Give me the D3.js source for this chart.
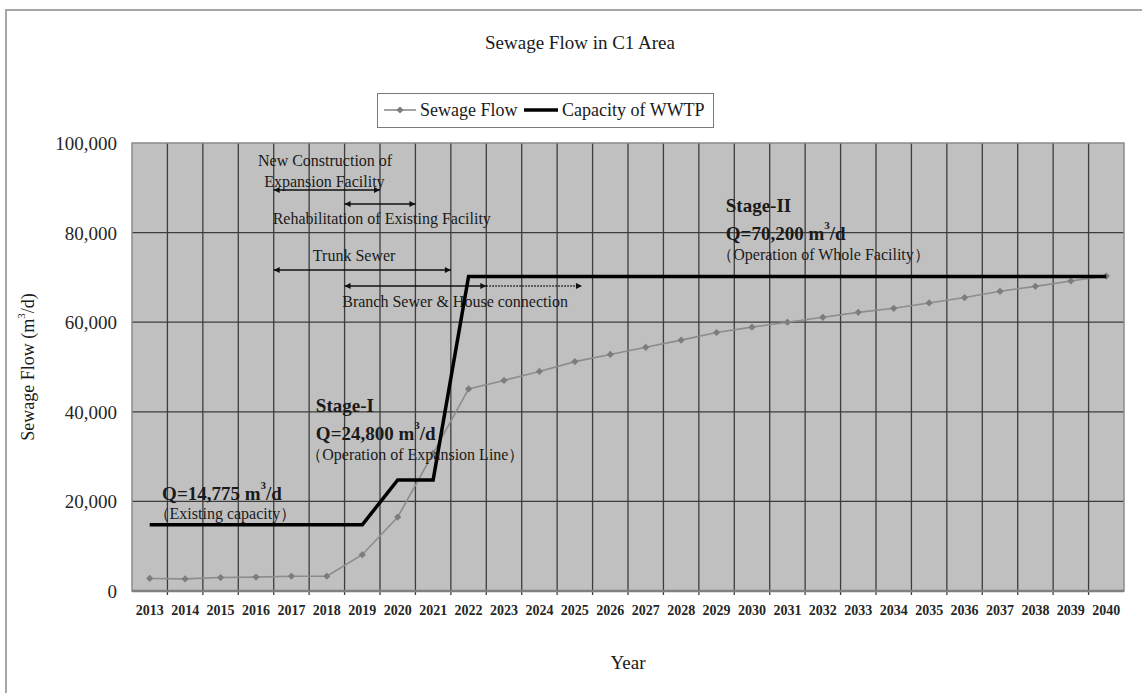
<!DOCTYPE html>
<html>
<head>
<meta charset="utf-8">
<script src="https://cdn.jsdelivr.net/npm/d3@7"></script>
<style>
  html, body { margin: 0; padding: 0; background: #ffffff; }
  svg { display: block; font-family: "Liberation Serif", "Times New Roman", serif; }
</style>
</head>
<body>
<svg id="chart" width="1142" height="693"></svg>
<script>
// ---- data ----
const years = ["2013","2014","2015","2016","2017","2018","2019","2020","2021","2022",
               "2023","2024","2025","2026","2027","2028","2029","2030","2031","2032",
               "2033","2034","2035","2036","2037","2038","2039","2040"];

// projected sewage flow (m3/d)
const sewageFlow = [2800, 2700, 3000, 3100, 3300, 3300, 8100, 16500, 30700, 45100,
                    47000, 49000, 51200, 52800, 54400, 56000, 57700, 58900, 60000, 61100,
                    62200, 63100, 64300, 65500, 66900, 68000, 69200, 70300];

// treatment plant capacity (m3/d)
const capacity = [14775, 14775, 14775, 14775, 14775, 14775, 14775, 24800, 24800, 70200,
                  70200, 70200, 70200, 70200, 70200, 70200, 70200, 70200, 70200, 70200,
                  70200, 70200, 70200, 70200, 70200, 70200, 70200, 70200];

const yTicks = [0, 20000, 40000, 60000, 80000, 100000];

// construction periods: year boundaries and the flow level they are drawn at
const periods = [
  { from: 2017, to: 2020,   level: 89500, dotted: false, start: true  },
  { from: 2019, to: 2021,   level: 86400, dotted: false, start: true  },
  { from: 2017, to: 2022,   level: 71650, dotted: false, start: true  },
  { from: 2019, to: 2023,   level: 68100, dotted: false, start: true  },
  { from: 2023, to: 2025.7, level: 68100, dotted: true,  start: false }
];

const periodLabels = [
  { text: "New Construction of",                 year: 2018.45, level: 96050 },
  { text: "Expansion Facility",                  year: 2018.43, level: 91300 },
  { text: "Rehabilitation of Existing Facility", year: 2020.05, level: 83040 },
  { text: "Trunk Sewer",                         year: 2019.27, level: 74780 },
  { text: "Branch Sewer & House connection",     year: 2022.12, level: 64510 }
];

// stage notes: bold capacity lines and plain description lines
const stageNotes = [
  { parts: ["Stage-I"],                     year: 2018.19, level: 41300, kind: "bold" },
  { parts: ["Q=24,800 m", "3", "/d"],       year: 2018.19, level: 35270, kind: "bold" },
  { parts: ["（Operation of Expansion Line）"], year: 2018.19, level: 30580, kind: "note" },
  { parts: ["Q=14,775 m", "3", "/d"],       year: 2013.85, level: 21880, kind: "bold" },
  { parts: ["（Existing capacity）"],          year: 2013.88, level: 17190, kind: "note" },
  { parts: ["Stage-II"],                    year: 2029.76, level: 86160, kind: "bold" },
  { parts: ["Q=70,200 m", "3", "/d"],       year: 2029.76, level: 79820, kind: "bold" },
  { parts: ["（Operation of Whole Facility）"], year: 2029.79, level: 75160, kind: "note" }
];

// ---- layout ----
const plot = { left: 132, right: 1124, top: 143, bottom: 591 };
const svg = d3.select("#chart");

const x = d3.scaleBand().domain(years).range([plot.left, plot.right]).padding(0);
const xc = d => x(d) + x.bandwidth() / 2;
// continuous year scale (band edges) for the schedule annotations
const xYear = d3.scaleLinear().domain([2013, 2041]).range([plot.left, plot.right]);
const y = d3.scaleLinear().domain([0, 100000]).range([plot.bottom, plot.top]);

// outer chart frame
svg.append("path")
  .attr("d", "M6,693 V10 H1142")
  .attr("fill", "none")
  .attr("stroke", "#a6a6a6")
  .attr("stroke-width", 2);

// title
svg.append("text")
  .attr("x", 580).attr("y", 42)
  .attr("text-anchor", "middle").attr("dominant-baseline", "central")
  .attr("font-size", 19).attr("fill", "#1a1a1a")
  .text("Sewage Flow in C1 Area");

// plot background
svg.append("rect")
  .attr("x", plot.left).attr("y", plot.top)
  .attr("width", plot.right - plot.left).attr("height", plot.bottom - plot.top)
  .attr("fill", "#c0c0c0");

// vertical grid at category boundaries (with small ticks below the axis)
svg.append("g").selectAll("line")
  .data(years.slice(1))
  .join("line")
  .attr("x1", d => x(d)).attr("x2", d => x(d))
  .attr("y1", plot.top).attr("y2", plot.bottom + 4)
  .attr("stroke", "#3c3c3c").attr("stroke-width", 1.3);

// horizontal grid
svg.append("g").selectAll("line")
  .data(yTicks.filter(v => v > 0 && v < 100000))
  .join("line")
  .attr("x1", plot.left).attr("x2", plot.right)
  .attr("y1", d => y(d)).attr("y2", d => y(d))
  .attr("stroke", "#3c3c3c").attr("stroke-width", 1.3);

// plot border
svg.append("rect")
  .attr("x", plot.left).attr("y", plot.top)
  .attr("width", plot.right - plot.left).attr("height", plot.bottom - plot.top)
  .attr("fill", "none").attr("stroke", "#8a8a8a").attr("stroke-width", 1.5);
svg.append("line")
  .attr("x1", plot.left).attr("x2", plot.right)
  .attr("y1", plot.bottom).attr("y2", plot.bottom)
  .attr("stroke", "#808080").attr("stroke-width", 2.5);

// y axis
const yAxis = svg.append("g")
  .attr("transform", `translate(${plot.left},0)`)
  .call(d3.axisLeft(y).tickValues(yTicks).tickFormat(d3.format(",")).tickSize(0).tickPadding(15));
yAxis.select(".domain").remove();
yAxis.selectAll("text")
  .attr("font-family", "Liberation Serif, serif")
  .attr("font-size", 19).attr("fill", "#262626")
  .attr("dy", null).attr("dominant-baseline", "central");

// x axis
const xAxis = svg.append("g")
  .attr("transform", `translate(0,${plot.bottom})`)
  .call(d3.axisBottom(x).tickSize(0).tickPadding(0));
xAxis.select(".domain").remove();
xAxis.selectAll("text")
  .attr("font-family", "Liberation Serif, serif")
  .attr("font-size", 14).attr("font-weight", "bold").attr("fill", "#262626")
  .attr("y", 19).attr("dy", null).attr("dominant-baseline", "central");

// axis titles
const yTitle = svg.append("text")
  .attr("transform", `translate(28,${(plot.top + plot.bottom) / 2}) rotate(-90)`)
  .attr("text-anchor", "middle").attr("dominant-baseline", "central")
  .attr("font-size", 18).attr("fill", "#1a1a1a");
yTitle.append("tspan").text("Sewage Flow (m");
yTitle.append("tspan").attr("font-size", 11).attr("dy", -7).text("3");
yTitle.append("tspan").attr("dy", 7).text("/d)");

svg.append("text")
  .attr("x", (plot.left + plot.right) / 2).attr("y", 662)
  .attr("text-anchor", "middle").attr("dominant-baseline", "central")
  .attr("font-size", 19).attr("fill", "#1a1a1a")
  .text("Year");

// arrowhead markers
const defs = svg.append("defs");
defs.append("marker")
  .attr("id", "headEnd").attr("viewBox", "0 0 10 10")
  .attr("refX", 10).attr("refY", 5)
  .attr("markerWidth", 8).attr("markerHeight", 6)
  .attr("markerUnits", "userSpaceOnUse").attr("orient", "auto")
  .append("path").attr("d", "M0,0 L10,5 L0,10 Z").attr("fill", "#111");
defs.append("marker")
  .attr("id", "headStart").attr("viewBox", "0 0 10 10")
  .attr("refX", 0).attr("refY", 5)
  .attr("markerWidth", 8).attr("markerHeight", 6)
  .attr("markerUnits", "userSpaceOnUse").attr("orient", "auto")
  .append("path").attr("d", "M10,0 L0,5 L10,10 Z").attr("fill", "#111");

// construction period arrows
svg.append("g").selectAll("line")
  .data(periods)
  .join("line")
  .attr("x1", d => xYear(d.from)).attr("x2", d => xYear(d.to))
  .attr("y1", d => y(d.level)).attr("y2", d => y(d.level))
  .attr("stroke", "#111").attr("stroke-width", 1.5)
  .attr("stroke-dasharray", d => d.dotted ? "1.5,1.5" : null)
  .attr("marker-end", "url(#headEnd)")
  .attr("marker-start", d => d.start ? "url(#headStart)" : null);

svg.append("g").selectAll("text")
  .data(periodLabels)
  .join("text")
  .attr("x", d => xYear(d.year)).attr("y", d => y(d.level))
  .attr("text-anchor", "middle").attr("dominant-baseline", "central")
  .attr("font-size", 16).attr("fill", "#1a1a1a")
  .text(d => d.text);

// sewage flow series
const sewage = years.map((yr, i) => ({ yr, v: sewageFlow[i] }));
svg.append("path")
  .datum(sewage)
  .attr("fill", "none").attr("stroke", "#8c8c8c").attr("stroke-width", 1.6)
  .attr("d", d3.line().x(d => xc(d.yr)).y(d => y(d.v)));
svg.append("g").selectAll("path")
  .data(sewage)
  .join("path")
  .attr("transform", d => `translate(${xc(d.yr)},${y(d.v)}) rotate(45)`)
  .attr("d", d3.symbol(d3.symbolSquare, 26))
  .attr("fill", "#7d7d7d");

// capacity series
const cap = years.map((yr, i) => ({ yr, v: capacity[i] }));
svg.append("path")
  .datum(cap)
  .attr("fill", "none").attr("stroke", "#000").attr("stroke-width", 3.5)
  .attr("stroke-linejoin", "miter")
  .attr("d", d3.line().x(d => xc(d.yr)).y(d => y(d.v)));

// stage notes
const notes = svg.append("g").selectAll("text")
  .data(stageNotes)
  .join("text")
  .attr("x", d => xYear(d.year)).attr("y", d => y(d.level))
  .attr("dx", d => d.kind === "note" ? "-0.6em" : null)
  .attr("dominant-baseline", "central")
  .attr("font-size", d => d.kind === "bold" ? 19 : 16)
  .attr("font-weight", d => d.kind === "bold" ? "bold" : "normal")
  .attr("fill", "#1a1a1a");
notes.each(function(d) {
  const t = d3.select(this);
  if (d.parts.length === 1) { t.text(d.parts[0]); return; }
  t.append("tspan").text(d.parts[0]);
  t.append("tspan").attr("font-size", 11).attr("dy", -8).text(d.parts[1]);
  t.append("tspan").attr("dy", 8).text(d.parts[2]);
});

// legend
const legend = svg.append("g");
legend.append("rect")
  .attr("x", 377.5).attr("y", 93.5).attr("width", 336).attr("height", 34)
  .attr("fill", "#fff").attr("stroke", "#7a7a7a").attr("stroke-width", 1);
legend.append("line")
  .attr("x1", 384).attr("x2", 416).attr("y1", 110).attr("y2", 110)
  .attr("stroke", "#8c8c8c").attr("stroke-width", 1.6);
legend.append("path")
  .attr("transform", "translate(400,110) rotate(45)")
  .attr("d", d3.symbol(d3.symbolSquare, 26))
  .attr("fill", "#7d7d7d");
legend.append("text")
  .attr("x", 420).attr("y", 110).attr("dominant-baseline", "central")
  .attr("font-size", 18).attr("fill", "#1a1a1a").text("Sewage Flow");
legend.append("line")
  .attr("x1", 524).attr("x2", 558).attr("y1", 110).attr("y2", 110)
  .attr("stroke", "#000").attr("stroke-width", 3.5);
legend.append("text")
  .attr("x", 562).attr("y", 110).attr("dominant-baseline", "central")
  .attr("font-size", 18).attr("fill", "#1a1a1a").text("Capacity of WWTP");
</script>
</body>
</html>
